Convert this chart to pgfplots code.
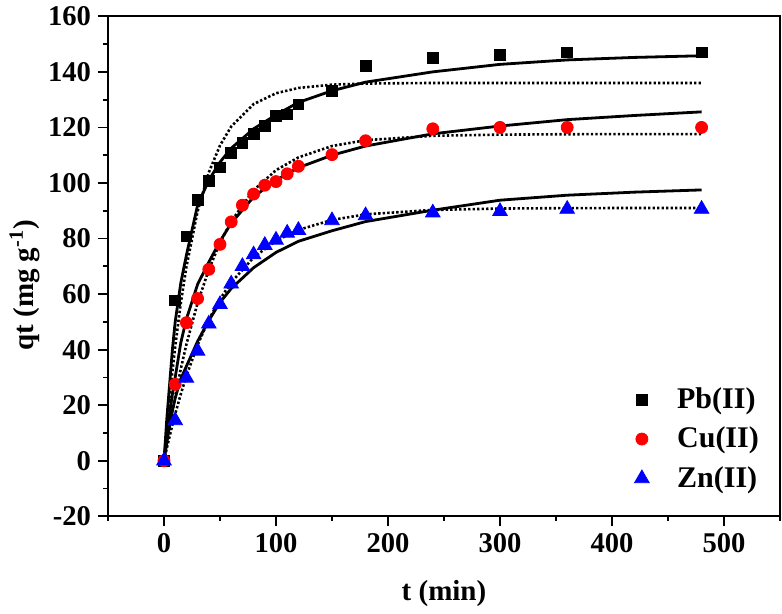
\documentclass[border=0pt]{standalone}
\usepackage{pgfplots}
\pgfplotsset{compat=1.18}
\usetikzlibrary{calc}
\usepackage{fontspec}
\setmainfont{Liberation Serif}
\definecolor{pbred}{RGB}{255,0,0}
\definecolor{znblue}{RGB}{0,0,255}
\begin{document}
\begin{tikzpicture}
\begin{axis}[
  scale only axis,
  width=336pt, height=250pt,
  xmin=-50, xmax=550, ymin=-20, ymax=160,
  xtick={0,100,...,500},
  minor xtick={-50,50,150,...,550},
  ytick={-20,0,...,160},
  minor ytick={-10,10,...,150},
  tick pos=left,
  tick align=outside,
  major tick length=5pt,
  minor tick length=2.5pt,
  every tick/.style={black, line width=0.9pt},
  axis line style={line width=1pt},
  /pgf/number format/assume math mode=true,
  ticklabel style={font=\fontsize{14.3}{16}\selectfont\bfseries},
  xlabel={t (min)},
  ylabel={qt (mg g\textsuperscript{-1})},
  label style={font=\fontsize{14.5}{17}\selectfont\bfseries},
  xlabel style={at={(axis description cs:0.5,-0.154)}, anchor=center},
  ylabel style={at={(axis description cs:-0.124,0.462)}, anchor=center},
  legend style={draw=none, fill=none, at={(0.984,0.274)}, anchor=north east,
    font=\fontsize{15}{17}\selectfont\bfseries, row sep=3.8pt,
    /tikz/every odd column/.append style={column sep=12pt}},
  legend cell align=left,
  clip=false,
]
% experimental data
\addplot[only marks, mark=square*, mark size=2.7pt, black] coordinates {
(0,0) (10,57.7) (20,80.8) (30,93.9) (40,100.7) (50,105.6) (60,110.7) (70,114.3)
(80,117.6) (90,120.6) (100,124.2) (110,124.7) (120,128.3) (150,133.2) (180,142.2)
(240,145.1) (300,146) (360,147) (480,147)};
\addlegendentry{Pb(II)}
\addplot[only marks, mark=*, mark size=3pt, pbred] coordinates {
(0,0) (10,27.5) (20,49.7) (30,58.4) (40,68.9) (50,77.9) (60,86) (70,92)
(80,96) (90,99.2) (100,100.5) (110,103.3) (120,106) (150,110.2) (180,115.2)
(240,119.5) (300,120) (360,120) (480,120)};
\addlegendentry{Cu(II)}
\addplot[only marks, mark=triangle*, mark size=4.2pt, znblue] coordinates {
(0,0) (10,14.5) (20,29.8) (30,39.5) (40,49.3) (50,56.3) (60,63.7) (70,70)
(80,74.2) (90,77.6) (100,79.5) (110,82) (120,83) (150,86.5) (180,88.3)
(240,89.3) (300,89.8) (360,90.6) (480,90.6)};
\addlegendentry{Zn(II)}
% solid fitted curves
\addplot[forget plot, black, line width=1.4pt, no marks] coordinates {
(0,0) (2.5,15) (5,27.5) (7.5,40) (10,50) (15,64) (20,74) (30,92) (40,101)
(50,107.5) (60,112.5) (80,119.5) (100,124.5) (120,129) (150,133.2) (180,136.3)
(240,140) (300,142.7) (360,144.3) (420,145.2) (480,145.8)};
\addplot[forget plot, black, line width=1.4pt, no marks] coordinates {
(0,0) (2.5,9) (5,17) (7.5,24) (10,30) (15,42.5) (20,51) (30,63.5) (40,71.5)
(50,79) (60,85.5) (80,95) (100,101) (120,105.5) (150,110) (180,113.3)
(240,117.7) (300,120.5) (360,122.8) (420,124.3) (480,125.6)};
\addplot[forget plot, black, line width=1.4pt, no marks] coordinates {
(0,0) (2.5,6.5) (5,12.5) (7.5,18) (10,22.5) (15,29.5) (20,34) (30,43) (40,50.5)
(50,57) (60,62) (80,69.5) (100,75) (120,79) (150,82.8) (180,86.1)
(240,90.2) (300,93.8) (360,95.6) (420,96.7) (480,97.5)};
% dotted fitted curves
\addplot[forget plot, black, line width=1.3pt, dash pattern=on 1.2pt off 1.05pt, no marks] coordinates {
(0,0) (2.5,11.7) (5,22.4) (7.5,32.2) (10,41.1) (15,56.8) (20,69.8) (30,89.8)
(40,103.8) (50,113.5) (60,120.3) (80,128.4) (100,132.3) (120,134.2) (150,135.4)
(180,135.8) (240,136) (300,136) (360,136) (420,136) (480,136)};
\addplot[forget plot, black, line width=1.3pt, dash pattern=on 1.2pt off 1.05pt, no marks] coordinates {
(0,0) (2.5,6.3) (5,12.3) (7.5,17.9) (10,23.2) (15,33.1) (20,41.9) (30,56.8)
(40,68.8) (50,78.5) (60,86.2) (80,97.4) (100,104.6) (120,109.2) (150,113.3)
(180,115.4) (240,117) (300,117.4) (360,117.55) (420,117.6) (480,117.6)};
\addplot[forget plot, black, line width=1.3pt, dash pattern=on 1.2pt off 1.05pt, no marks] coordinates {
(0,0) (2.5,4.5) (5,8.8) (7.5,12.9) (10,16.8) (15,24) (20,30.5) (30,41.7)
(40,50.8) (50,58.2) (60,64.2) (80,73.2) (100,79.2) (120,83.1) (150,86.7)
(180,88.7) (240,90.3) (300,90.8) (360,90.94) (420,91) (480,91)};
\end{axis}
\path[use as bounding box] ($(current axis.south west)+(-54pt,-46.5pt)$) rectangle ($(current axis.north east)+(1pt,6.5pt)$);
\end{tikzpicture}
\end{document}
